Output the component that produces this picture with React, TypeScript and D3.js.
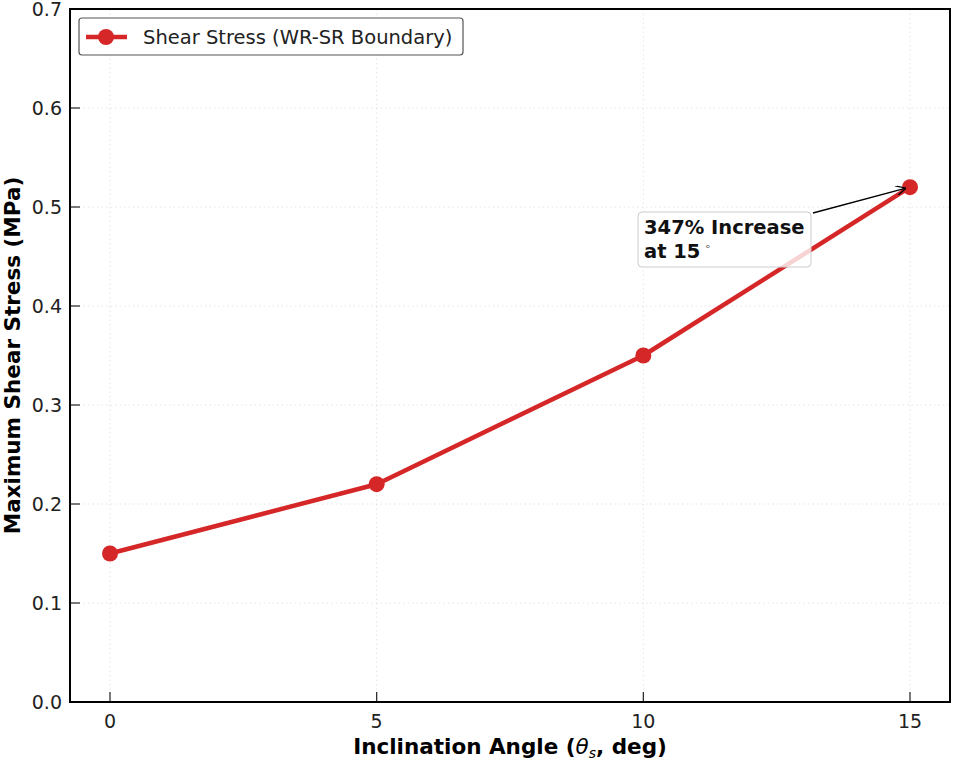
import React from 'react';
import * as d3 from 'd3';

const angles = [0, 5, 10, 15];
const shearStress = [0.15, 0.22, 0.35, 0.52];
const xTicks = [0, 5, 10, 15];
const yTicks = [0, 0.1, 0.2, 0.3, 0.4, 0.5, 0.6, 0.7];

const W = 955;
const H = 761;
const m = { left: 70, right: 5, top: 9, bottom: 59 };
const red = '#d62728';
const font = '"DejaVu Sans", sans-serif';

export default function App() {
  const x = d3.scaleLinear().domain([-0.75, 15.75]).range([m.left, W - m.right]);
  const y = d3.scaleLinear().domain([0, 0.7]).range([H - m.bottom, m.top]);
  const pts = angles.map((a, i) => [a, shearStress[i]] as [number, number]);
  const line = d3.line<[number, number]>().x(d => x(d[0])).y(d => y(d[1]));
  const last = pts[pts.length - 1];

  return (
    <svg width={W} height={H} style={{ position: 'absolute', left: 0, top: 0, background: '#fff' }} fontFamily={font}>
      <defs>
        <marker id="arr" viewBox="0 0 10 10" refX="10" refY="5" markerWidth="10" markerHeight="10" orient="auto" markerUnits="userSpaceOnUse">
          <path d="M0,0 L10,5 L0,10" fill="none" stroke="#000" strokeWidth={1.3} />
        </marker>
      </defs>
      {/* grid */}
      {xTicks.map(t => (
        <line key={'gx' + t} x1={x(t)} x2={x(t)} y1={y(0.7)} y2={y(0)} stroke="#ddd" strokeWidth={0.8} strokeDasharray="1.5,3" />
      ))}
      {yTicks.map(t => (
        <line key={'gy' + t} x1={m.left} x2={W - m.right} y1={y(t)} y2={y(t)} stroke="#ddd" strokeWidth={0.8} strokeDasharray="1.5,3" />
      ))}
      {/* series */}
      <path d={line(pts) || ''} fill="none" stroke={red} strokeWidth={4.5} strokeLinejoin="round" />
      {pts.map((p, i) => (
        <circle key={i} cx={x(p[0])} cy={y(p[1])} r={8} fill={red} />
      ))}
      {/* annotation */}
      <line x1={813} y1={213} x2={x(last[0]) - 4} y2={y(last[1]) + 1} stroke="#000" strokeWidth={1.3} markerEnd="url(#arr)" />
      <rect x={638} y={212} width={173} height={55} rx={4} fill="#fff" fillOpacity={0.8} stroke="#ccc" strokeWidth={1} />
      <text x={644} y={234} fontSize={19.5} fontWeight="bold" fill="#111">347% Increase</text>
      <text x={644} y={258} fontSize={19.5} fontWeight="bold" fill="#111">
        at 15<tspan fontSize={11} dy={-8} fontWeight="normal" fill="#666"> ∘</tspan>
      </text>
      {/* ticks */}
      {xTicks.map(t => (
        <g key={'tx' + t}>
          <line x1={x(t)} x2={x(t)} y1={y(0)} y2={y(0) - 10} stroke="#222" strokeWidth={1.2} />
          <text x={x(t)} y={y(0) + 26} fontSize={19} textAnchor="middle" fill="#222">{t}</text>
        </g>
      ))}
      {yTicks.map(t => (
        <g key={'ty' + t}>
          <line x1={m.left} x2={m.left + 10} y1={y(t)} y2={y(t)} stroke="#222" strokeWidth={1.2} />
          <text x={m.left - 8} y={y(t) + 7} fontSize={19} textAnchor="end" fill="#222">{t.toFixed(1)}</text>
        </g>
      ))}
      {/* frame */}
      <rect x={m.left} y={m.top} width={W - m.right - m.left} height={H - m.bottom - m.top} fill="none" stroke="#000" strokeWidth={2} />
      {/* legend */}
      <rect x={79} y={18} width={384} height={37} rx={3} fill="#fff" stroke="#555" strokeWidth={1.2} />
      <line x1={86} x2={127} y1={37} y2={37} stroke={red} strokeWidth={4.5} />
      <circle cx={106} cy={37} r={8} fill={red} />
      <text x={143} y={44} fontSize={19.5} fill="#222">Shear Stress (WR-SR Boundary)</text>
      {/* axis titles */}
      <text x={(m.left + W - m.right) / 2} y={754} fontSize={21.5} fontWeight="bold" textAnchor="middle" fill="#000">
        Inclination Angle (<tspan fontStyle="italic" fontWeight="normal">θ</tspan><tspan fontSize={14} dy={4} fontStyle="italic" fontWeight="normal">s</tspan><tspan dy={-4}>, deg)</tspan>
      </text>
      <text transform={`translate(20,${(m.top + H - m.bottom) / 2}) rotate(-90)`} fontSize={21.5} fontWeight="bold" textAnchor="middle" fill="#000">
        Maximum Shear Stress (MPa)
      </text>
    </svg>
  );
}
